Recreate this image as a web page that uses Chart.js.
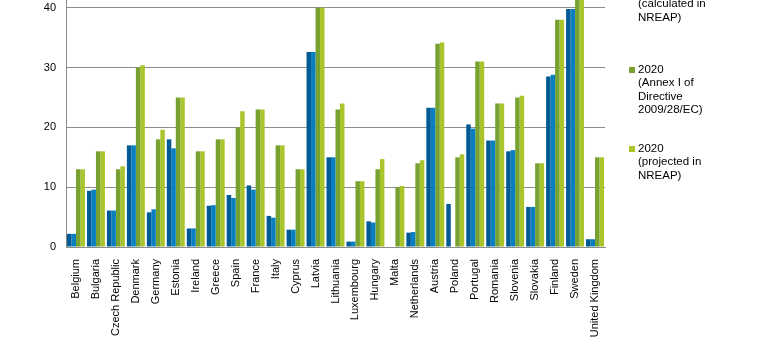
<!DOCTYPE html>
<html>
<head>
<meta charset="utf-8">
<script src="https://cdn.jsdelivr.net/npm/chart.js@4/dist/chart.umd.min.js"></script>
<style>
  html, body { margin: 0; padding: 0; background: #fff; overflow: hidden; }
  body { width: 777px; height: 351px; position: relative; }
  #wrap { position: absolute; left: 0; top: -82px; width: 777px; height: 434px; }
  #legend { position: absolute; left: 629px; top: 0; font: 11.5px "Liberation Sans", Arial, sans-serif; color: #000; }
  .item { position: absolute; left: 0; line-height: 13.5px; white-space: nowrap; }
  .item .box { position: absolute; left: 0; top: 4px; width: 6px; height: 6px; }
  .item .txt { position: absolute; left: 9px; top: 0; }
</style>
</head>
<body>
<div id="wrap"><canvas id="chart"></canvas></div>
<div id="legend"></div>
<script>
const countries = ['Belgium', 'Bulgaria', 'Czech Republic', 'Denmark', 'Germany', 'Estonia', 'Ireland', 'Greece',
  'Spain', 'France', 'Italy', 'Cyprus', 'Latvia', 'Lithuania', 'Luxembourg', 'Hungary', 'Malta', 'Netherlands',
  'Austria', 'Poland', 'Portugal', 'Romania', 'Slovenia', 'Slovakia', 'Finland', 'Sweden', 'United Kingdom'];

const share2005Annex = [2.2, 9.4, 6.1, 17.0, 5.8, 18.0, 3.1, 6.9, 8.7, 10.3, 5.2, 2.9, 32.6, 15.0, 0.9, 4.3, 0.0,
  2.4, 23.3, 7.2, 20.5, 17.8, 16.0, 6.7, 28.5, 39.8, 1.3];
const share2005Nreap = [2.2, 9.6, 6.1, 17.0, 6.3, 16.5, 3.1, 7.0, 8.2, 9.6, 4.9, 2.9, 32.6, 15.0, 0.9, 4.1, 0.0,
  2.5, 23.3, null, 19.8, 17.8, 16.2, 6.7, 28.8, 39.8, 1.3];
const target2020 = [13, 16, 13, 30, 18, 25, 16, 18, 20, 23, 17, 13, 40, 23, 11, 13, 10,
  14, 34, 15, 31, 24, 25, 14, 38, 49, 15];
const projected2020 = [13.0, 16.0, 13.5, 30.4, 19.6, 25.0, 16.0, 18.0, 22.7, 23.0, 17.0, 13.0, 40.0, 24.0, 11.0, 14.7, 10.2,
  14.5, 34.2, 15.5, 31.0, 24.0, 25.3, 14.0, 38.0, 50.2, 15.0];

const yTicks = [0, 10, 20, 30, 40, 50];

const legendLines = [
  ['2005', '(Annex I of', 'Directive', '2009/28/EC)'],
  ['2005', '(calculated in', 'NREAP)'],
  ['2020', '(Annex I of', 'Directive', '2009/28/EC)'],
  ['2020', '(projected in', 'NREAP)']
];

const colors = [
  '#005b95', // dark blue
  '#0a7fc0', // blue
  '#78a22f', // green
  '#a9c52b'  // lime
];

const fontFamily = '"Liberation Sans", Arial, sans-serif';
const gridGrey = '#8c8c8c';

const series = [share2005Annex, share2005Nreap, target2020, projected2020];

const chart = new Chart(document.getElementById('chart'), {
  type: 'bar',
  data: {
    labels: countries,
    datasets: series.map((vals, i) => ({
      label: legendLines[i].join(' '),
      data: vals,
      backgroundColor: colors[i],
      borderWidth: 0,
      categoryPercentage: 0.9,
      barPercentage: 1.0
    }))
  },
  options: {
    responsive: true,
    maintainAspectRatio: false,
    animation: false,
    layout: { padding: { top: 30, right: 172, left: 0, bottom: 0 } },
    plugins: {
      legend: { display: false },
      tooltip: { enabled: false }
    },
    scales: {
      x: {
        grid: { display: false, drawTicks: false },
        border: { color: gridGrey },
        ticks: {
          autoSkip: false,
          maxRotation: 90,
          minRotation: 90,
          padding: 12,
          color: '#000',
          font: { family: fontFamily, size: 11 }
        },
        afterFit: (s) => { s.height = 105; }
      },
      y: {
        min: yTicks[0],
        max: yTicks[yTicks.length - 1],
        grid: { color: gridGrey, drawTicks: false },
        border: { color: gridGrey },
        ticks: {
          stepSize: 10,
          padding: 10,
          color: '#000',
          font: { family: fontFamily, size: 11 }
        },
        afterFit: (s) => { s.width = 66; }
      }
    }
  }
});

// legend drawn as html so the entries can wrap like the original
const legend = document.getElementById('legend');
legendLines.forEach((lines, i) => {
  const item = document.createElement('div');
  item.className = 'item';
  item.style.top = (-95.5 + i * 79) + 'px';
  const box = document.createElement('span');
  box.className = 'box';
  box.style.background = colors[i];
  const txt = document.createElement('span');
  txt.className = 'txt';
  txt.innerHTML = lines.join('<br>');
  item.appendChild(box);
  item.appendChild(txt);
  legend.appendChild(item);
});
</script>
</body>
</html>
